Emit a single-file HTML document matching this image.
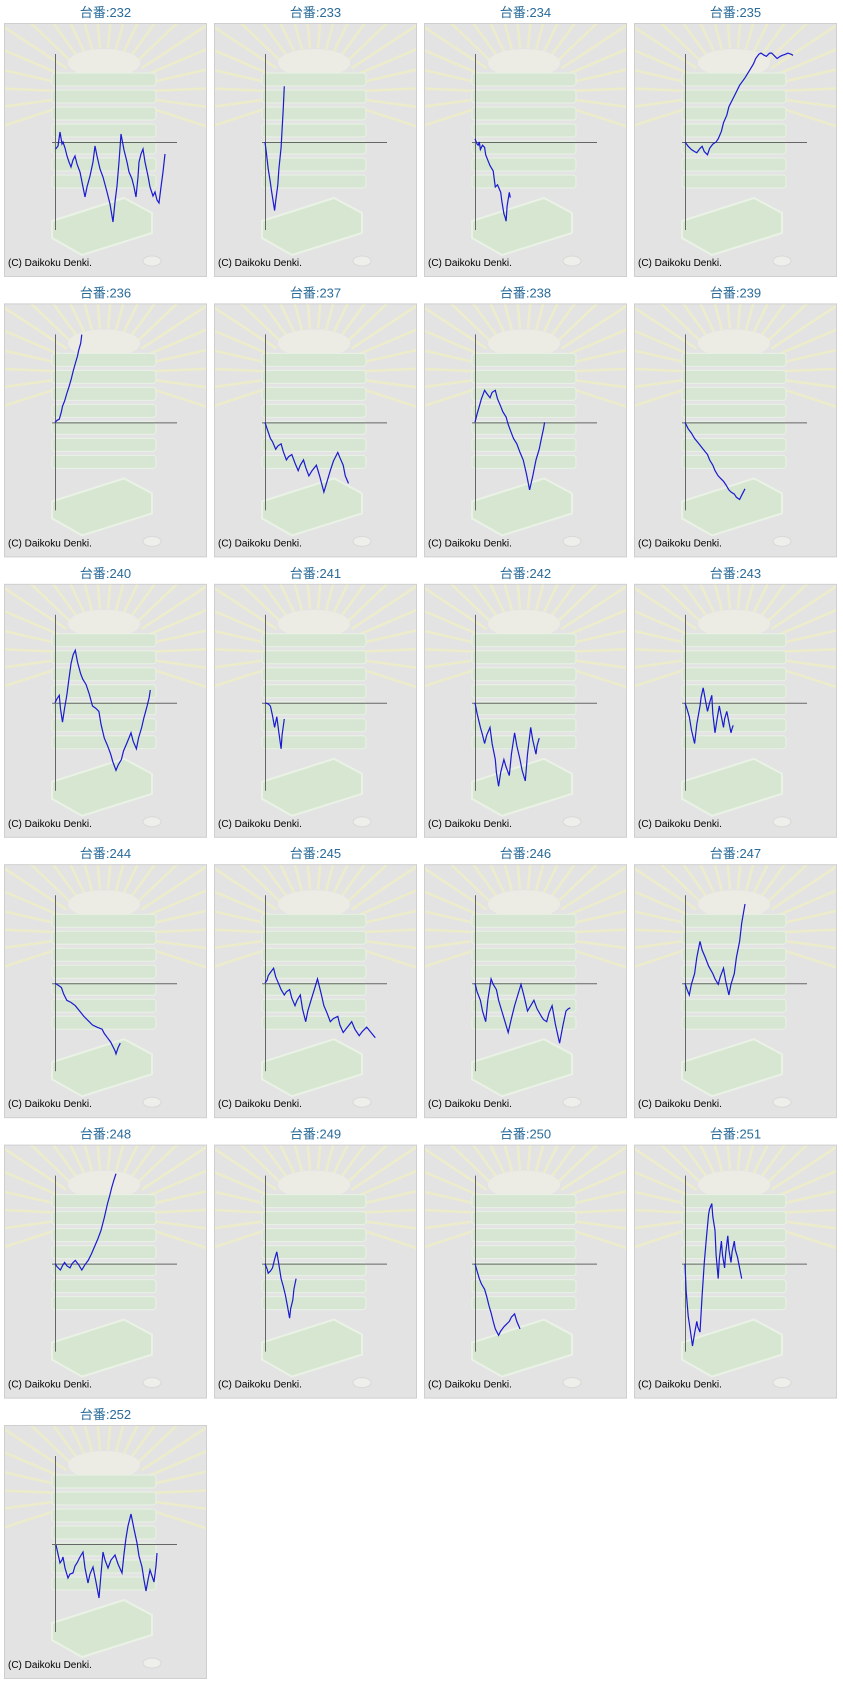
<!DOCTYPE html>
<html><head><meta charset="utf-8">
<style>
html,body{margin:0;padding:0;background:#fff;width:843px;height:1683px;overflow:hidden}
svg{display:block}
</style></head>
<body>
<svg id="s" width="843" height="1683" xmlns="http://www.w3.org/2000/svg"></svg>
<script>
var D=[
[232,1,[[0.7,7],[3,4],[5,-10],[7,2],[8,0],[10,6],[12,14],[14,20],[16,25],[18,18],[20,14],[22,22],[25,30],[28,45],[30,55],[32,45],[35,34],[38,20],[40,4],[42,14],[45,27],[48,35],[52,50],[55,62],[58,80],[60,60],[62,44],[64,20],[66,-8],[69,8],[72,20],[74,30],[77,37],[79,45],[81,55],[83,35],[84,20],[86,12],[88,7],[90,20],[93,34],[95,45],[98,54],[100,50],[102,58],[104,61],[106,45],[108,30],[110,12]]],
[233,0,[[0,0],[1,8],[3,25],[5,38],[6,45],[8,58],[9,64],[10,55],[12,40],[13,25],[15,5],[16,-12],[17,-30],[18,-52]]],
[234,0,[[0,-3],[2,2],[3,3],[4,0],[5,7],[7,3],[9,5],[10,12],[12,17],[14,22],[17,27],[18,35],[19,42],[21,40],[24,47],[25,55],[27,67],[28,70],[29,74],[30,60],[32,47],[33,52]]],
[235,0,[[0,0],[3,4],[6,7],[9,9],[11,10],[14,6],[16,4],[18,9],[21,12],[23,6],[26,2],[29,0],[31,-3],[34,-10],[36,-18],[39,-25],[41,-33],[46,-43],[51,-53],[56,-60],[61,-68],[64,-73],[66,-78],[69,-82],[71,-83],[74,-81],[76,-80],[79,-83],[81,-83],[84,-80],[86,-78],[89,-80],[91,-81],[94,-82],[96,-83],[99,-82],[101,-81]]],
[236,0,[[0,0],[2,-2],[4,-3],[6,-10],[7,-15],[9,-20],[11,-27],[13,-33],[15,-40],[17,-48],[19,-55],[21,-62],[22,-67],[24,-74],[25,-82]]],
[237,0,[[0,0],[2,6],[5,15],[7,18],[10,25],[12,22],[15,20],[17,27],[20,35],[22,32],[25,30],[28,38],[31,45],[33,40],[36,35],[38,42],[41,50],[44,45],[48,40],[51,50],[55,65],[58,55],[61,45],[64,36],[68,28],[70,33],[73,40],[75,50],[78,57]]],
[238,0,[[0,0],[2,-8],[4,-15],[6,-22],[9,-30],[11,-27],[14,-23],[16,-28],[19,-30],[21,-22],[24,-15],[26,-10],[29,-5],[31,2],[34,10],[36,15],[39,20],[42,28],[45,35],[48,48],[51,63],[54,50],[57,35],[60,25],[62,15],[64,6],[65,0]]],
[239,0,[[0,0],[3,6],[6,10],[9,15],[13,20],[17,25],[21,30],[23,35],[26,40],[28,45],[31,50],[33,52],[36,55],[38,58],[41,63],[43,65],[46,67],[48,70],[51,72],[53,68],[56,62]]],
[240,0,[[0,0],[2,-4],[4,-7],[5,5],[7,18],[9,5],[11,-7],[13,-22],[15,-37],[17,-45],[19,-49],[21,-38],[24,-27],[26,-22],[29,-17],[32,-8],[35,3],[38,5],[41,8],[43,20],[46,33],[49,40],[52,48],[54,55],[57,63],[59,58],[62,53],[64,45],[67,38],[69,33],[71,28],[73,36],[76,43],[78,33],[81,23],[83,14],[86,3],[88,-5],[89,-12]]],
[241,0,[[0,0],[3,1],[5,3],[7,12],[9,23],[10,18],[11,13],[13,28],[15,43],[16,30],[18,15]]],
[242,0,[[0,0],[2,10],[5,23],[7,30],[9,38],[11,30],[14,23],[16,38],[19,53],[20,65],[22,78],[24,65],[27,53],[29,60],[32,68],[34,48],[37,28],[39,40],[42,53],[44,63],[47,73],[49,48],[52,23],[54,35],[57,48],[58,40],[60,33]]],
[243,0,[[0,0],[2,6],[4,13],[6,25],[9,38],[11,20],[14,3],[15,-5],[17,-14],[19,-3],[21,8],[23,0],[25,-7],[26,10],[28,28],[30,15],[32,3],[34,13],[36,23],[37,15],[39,8],[41,18],[43,28],[44,24],[45,21]]],
[244,0,[[0,0],[3,2],[6,4],[8,10],[11,16],[15,18],[19,21],[23,26],[27,31],[31,35],[35,39],[39,41],[44,43],[46,47],[49,51],[52,55],[54,59],[56,63],[57,66],[59,60],[61,56]]],
[245,0,[[0,0],[2,-3],[3,-7],[5,-10],[8,-14],[10,-6],[13,1],[15,6],[18,11],[20,8],[23,6],[25,14],[28,21],[30,16],[33,11],[35,24],[38,36],[40,26],[43,16],[46,6],[49,-4],[52,8],[55,21],[58,28],[61,36],[64,33],[68,31],[70,39],[73,46],[77,41],[81,36],[84,43],[88,49],[91,45],[95,41],[99,46],[103,51]]],
[246,0,[[0,0],[2,8],[5,16],[7,26],[10,36],[12,16],[15,-4],[17,1],[20,6],[22,16],[25,26],[28,36],[31,46],[34,33],[37,21],[40,11],[43,1],[46,13],[49,26],[52,21],[55,16],[58,24],[62,31],[64,34],[67,36],[69,28],[72,21],[75,38],[79,56],[82,40],[85,26],[87,24],[89,23]]],
[247,0,[[0,0],[2,6],[4,11],[6,1],[9,-9],[11,-24],[14,-39],[16,-31],[19,-24],[22,-16],[26,-9],[28,-4],[31,1],[33,-6],[36,-14],[38,-2],[41,11],[43,1],[46,-9],[48,-24],[51,-39],[53,-56],[56,-74]]],
[248,0,[[0,0],[2,3],[5,6],[7,2],[9,-1],[11,2],[14,4],[16,0],[19,-3],[22,1],[25,6],[28,1],[31,-3],[34,-9],[37,-16],[40,-23],[43,-31],[46,-43],[49,-56],[51,-63],[53,-71],[55,-78],[57,-84]]],
[249,0,[[0,0],[2,5],[3,9],[5,7],[7,4],[9,-4],[11,-11],[13,1],[15,14],[17,21],[19,29],[21,40],[23,51],[24,42],[26,34],[27,24],[29,14]]],
[250,0,[[0,0],[2,7],[4,14],[6,19],[9,24],[11,31],[13,39],[15,46],[17,54],[19,61],[22,67],[24,63],[27,59],[29,57],[32,54],[34,50],[37,47],[39,54],[42,61]]],
[251,0,[[0,0],[1,25],[3,49],[5,63],[7,77],[9,65],[11,54],[12,59],[14,64],[16,30],[18,-1],[20,-24],[22,-46],[23,-51],[25,-56],[26,-44],[28,-31],[29,-8],[31,14],[32,-4],[34,-21],[35,-8],[37,4],[38,-10],[40,-26],[41,-13],[43,-1],[44,-11],[46,-21],[47,-13],[49,-6],[51,4],[53,14]]],
[252,1,[[1,1],[3,10],[5,19],[7,16],[8,13],[10,24],[13,34],[15,30],[18,29],[20,22],[22,19],[25,13],[28,8],[30,24],[33,39],[35,30],[38,23],[41,38],[44,54],[46,30],[48,8],[50,16],[53,24],[56,16],[60,11],[63,20],[67,29],[69,10],[71,-6],[73,-18],[76,-30],[79,-15],[82,-1],[84,12],[87,23],[89,36],[91,47],[93,36],[95,26],[97,32],[99,38],[101,22],[102,9]]]
];
var h='<defs><clipPath id="cp"><rect x="1" y="1" width="201" height="252"/></clipPath></defs>';
var bg='<rect x="0.5" y="0.5" width="202" height="253" fill="#e3e3e3" stroke="#cfcfcf"/><g clip-path="url(#cp)">';
var cx=100,cy=70;
for(var a=0;a<22;a++){var t=Math.PI*(a/21)*1.2-Math.PI*1.1;var x2=cx+Math.cos(t)*150,y2=cy+Math.sin(t)*150;
var x1=cx+Math.cos(t)*45,y1=cy+Math.sin(t)*45;
bg+='<line x1="'+x1.toFixed(1)+'" y1="'+y1.toFixed(1)+'" x2="'+x2.toFixed(1)+'" y2="'+y2.toFixed(1)+'" stroke="#eeeec8" stroke-width="2.5" opacity="0.9"/>';}
bg+='<ellipse cx="100" cy="40" rx="36" ry="14" fill="#ecebe4"/>';
for(var k=0;k<7;k++){bg+='<rect x="48" y="'+(50+k*17)+'" width="104" height="13" rx="3" fill="#d6e6d2" stroke="#e9f1e6"/>';}
bg+='<path d="M48 198 L120 175 L148 190 L148 210 L78 232 L48 215 Z" fill="#d6e6d1" stroke="#eaf2e6" stroke-width="2"/>';
bg+='<ellipse cx="148" cy="238" rx="9" ry="5" fill="#eeeeea" stroke="#d8d8d8"/></g>';
D.forEach(function(d,i){var c=i%4,r=Math.floor(i/4);var X=4+210*c,Y=23+280.4*r;
h+='<text x="'+(X+101.5)+'" y="'+(Y-6)+'" text-anchor="middle" font-family="Liberation Sans, Noto Sans CJK JP, sans-serif" font-size="13" fill="#2a6b99">台番:'+d[0]+'</text>';
h+='<g transform="translate('+X+','+Y.toFixed(1)+')">'+bg+
'<line x1="51.5" y1="31" x2="51.5" y2="207" stroke="#666" stroke-width="1"/>'+
'<line x1="48" y1="119.5" x2="173" y2="119.5" stroke="#666" stroke-width="1"/>'+
'<text x="4" y="243" font-family="Liberation Sans, sans-serif" font-size="10" fill="#000">(C) Daikoku Denki.</text></g>';
var s=d[1]?1:1.0707;var ox=X+51,oy=Y+119;
var p=d[2].map(function(q){return (ox+q[0]*s).toFixed(1)+','+(oy+q[1]*s).toFixed(1)}).join(' ');
h+='<polyline points="'+p+'" fill="none" stroke="#1a1ad0" stroke-width="1.2"/>';
});
document.getElementById('s').innerHTML=h;
</script>
</body></html>
